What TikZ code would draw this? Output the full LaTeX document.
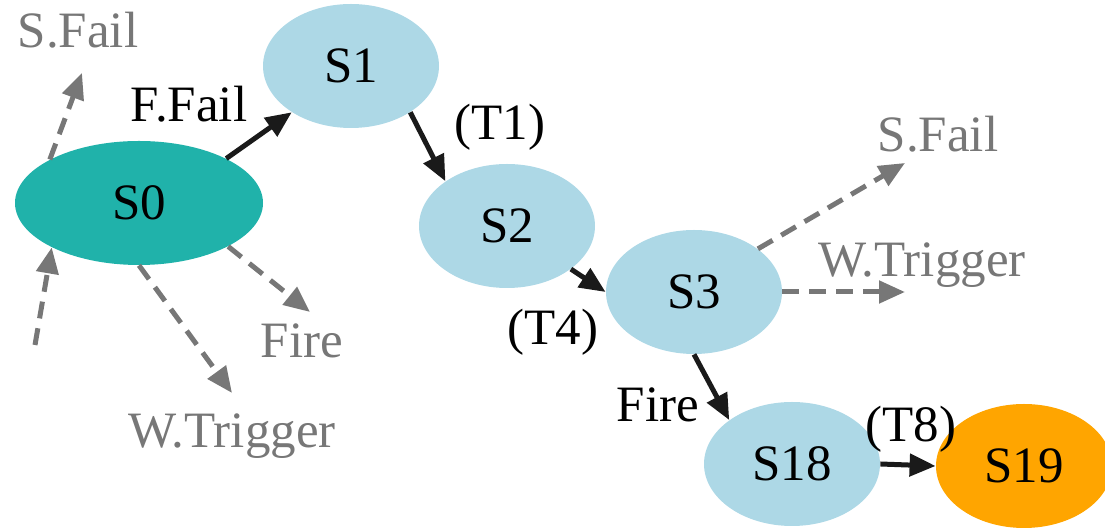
\documentclass[tikz,border=0pt]{standalone}
\usepackage{fontspec}
\setmainfont{Liberation Serif}
\usetikzlibrary{shapes.geometric,arrows.meta}
\definecolor{stateblue}{HTML}{ADD8E6}
\definecolor{startgreen}{HTML}{20B2AA}
\definecolor{goalorange}{HTML}{FFA500}
\definecolor{lostgray}{HTML}{777777}
\definecolor{edgeblack}{HTML}{1A1A1A}
\begin{document}
\begin{tikzpicture}[x=0.5pt,y=-0.5pt,
	font=\fontsize{25.5}{30}\selectfont,
	state/.style={ellipse,fill=stateblue,minimum width=88pt,minimum height=62pt,inner sep=0pt},
	taken/.style={edgeblack,line width=2.5pt,-{Triangle[length=13pt,width=11pt]}},
	lost/.style={lostgray,line width=2.5pt,dash pattern=on 8.5pt off 5pt,-{Triangle[length=13pt,width=11pt]}},
	lbl/.style={anchor=base,inner sep=0pt}]
	\useasboundingbox (0,0) rectangle (1105,528);
	% states
	\node[state,fill=startgreen,minimum width=124pt] (s0) at (139,203) {S0};
	\node[state] (s1) at (351,66) {S1};
	\node[state] (s2) at (507,226) {S2};
	\node[state] (s3) at (694,292) {S3};
	\node[state] (s18) at (792,464) {S18};
	\node[state,fill=goalorange] (s19) at (1024,466) {S19};
	% loose ends of the dashed edges
	\coordinate (in0) at (35,345);
	\coordinate (sfail0tip) at (82,73);
	\coordinate (fire0tip) at (310,312);
	\coordinate (wtrig0tip) at (232,393);
	\coordinate (sfail3tip) at (905,163);
	\coordinate (wtrig3tip) at (905,292);
	% transitions taken
	\draw[taken] (s0.27) -- (s1.218);
	\draw[taken] (s1.322) -- (s2.144);
	\draw[taken] (s2.326) -- (s3.west);
	\draw[taken] (s3.south) -- (s18.145);
	\draw[taken] (s18.east) -- (s19.west);
	% transitions not taken
	\draw[lost] (in0) -- (s0.207);
	\draw[lost] (s0.154) -- (sfail0tip);
	\draw[lost] (s0.334) -- (fire0tip);
	\draw[lost] (s0.south) -- (wtrig0tip);
	\draw[lost] (s3.34) -- (sfail3tip);
	\draw[lost] (s3.east) -- (wtrig3tip);
	% labels
	\node[lbl,lostgray] (sfail0) at (78,48) {S.Fail};
	\node[lbl] (ffail) at (189,122) {F.Fail};
	\node[lbl] (t1) at (500,140) {(T1)};
	\node[lbl] (t4) at (553,345) {(T4)};
	\node[lbl,lostgray] (sfail3) at (938,152) {S.Fail};
	\node[lbl,lostgray] (wtrig3) at (922,277) {W.Trigger};
	\node[lbl,lostgray] (fire0) at (302,358) {Fire};
	\node[lbl,lostgray] (wtrig0) at (232,448) {W.Trigger};
	\node[lbl] (fire3) at (658,422) {Fire};
	\node[lbl] (t8) at (911,442) {(T8)};
\end{tikzpicture}
\end{document}
